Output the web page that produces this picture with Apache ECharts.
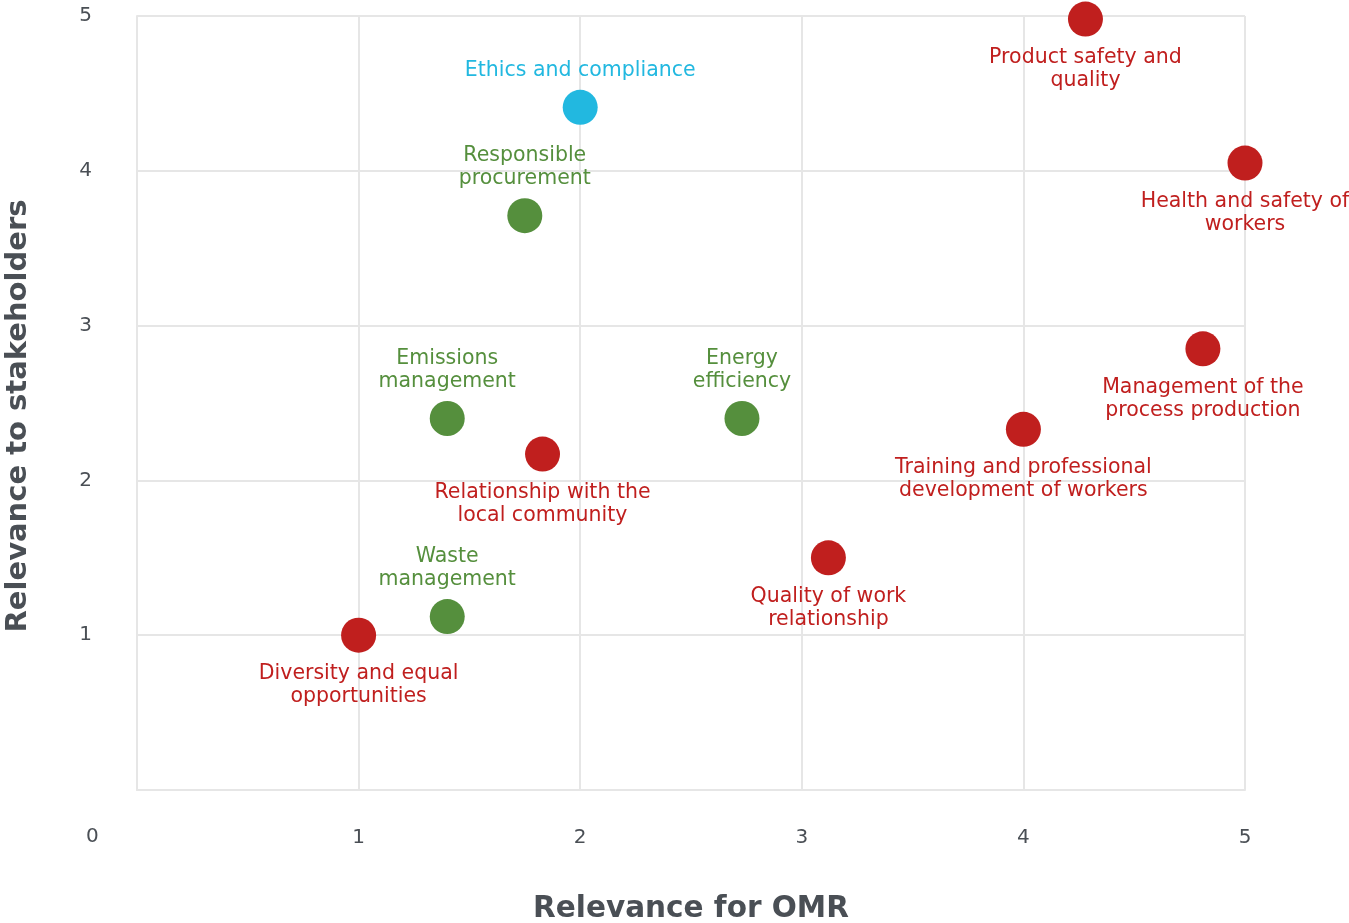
<!DOCTYPE html>
<html>
<head>
<meta charset="utf-8">
<script src="https://cdn.jsdelivr.net/npm/echarts@6/dist/echarts.min.js"></script>
<style>
html,body{margin:0;padding:0;background:#fff;}
#chart{width:1349px;height:923px;}
</style>
</head>
<body>
<div id="chart"></div>
<script>
// Data
const redNames = ['Product safety and\nquality', 'Health and safety of\nworkers', 'Management of the\nprocess production', 'Training and professional\ndevelopment of workers', 'Quality of work\nrelationship', 'Relationship with the\nlocal community', 'Diversity and equal\nopportunities'];
const redX = [4.28, 5.0, 4.81, 4.0, 3.12, 1.83, 1.0];
const redY = [4.98, 4.05, 2.85, 2.33, 1.50, 2.17, 1.0];

const greenNames = ['Responsible\nprocurement', 'Emissions\nmanagement', 'Energy\nefficiency', 'Waste\nmanagement'];
const greenX = [1.75, 1.40, 2.73, 1.40];
const greenY = [3.71, 2.40, 2.40, 1.12];

const blueNames = ['Ethics and compliance'];
const blueX = [2.0];
const blueY = [4.41];

const xTitle = 'Relevance for OMR';
const yTitle = 'Relevance to stakeholders';

const FONT = 'DejaVu Sans';
const TEXT = '#4a4f55';

function build(names, xs, ys) {
  return names.map((n, i) => ({ name: n, value: [xs[i], ys[i]] }));
}
function series(names, xs, ys, color, pos, dist) {
  return {
    type: 'scatter',
    symbolSize: 35,
    itemStyle: { color: color, opacity: 1 },
    data: build(names, xs, ys),
    label: {
      show: true,
      position: pos,
      distance: dist,
      formatter: p => p.name,
      color: color,
      fontFamily: FONT,
      fontSize: 20.5,
      lineHeight: 23,
      align: 'center'
    },
    emphasis: { disabled: true }
  };
}

const chart = echarts.init(document.getElementById('chart'), null, { renderer: 'canvas' });
chart.setOption({
  animation: false,
  grid: { left: 137, top: 16, width: 1108, height: 774, containLabel: false, outerBoundsMode: 'none' },
  xAxis: {
    type: 'value', min: 0, max: 5, interval: 1,
    name: xTitle, nameLocation: 'middle', nameGap: 104,
    nameTextStyle: { fontFamily: FONT, fontWeight: 'bold', fontSize: 29.5, color: TEXT },
    axisLine: { show: true, lineStyle: { color: '#e6e6e6', width: 2 } },
    axisTick: { show: false },
    axisLabel: { margin: 38, showMinLabel: false, color: TEXT, fontFamily: FONT, fontSize: 20 },
    splitLine: { show: true, lineStyle: { color: '#e6e6e6', width: 2 } }
  },
  yAxis: {
    type: 'value', min: 0, max: 5, interval: 1,
    name: yTitle, nameLocation: 'middle', nameGap: 104,
    nameTextStyle: { fontFamily: FONT, fontWeight: 'bold', fontSize: 29, color: TEXT, padding: [0, 26, 0, 0] },
    axisLine: { show: true, lineStyle: { color: '#e6e6e6', width: 2 } },
    axisTick: { show: false },
    axisLabel: { margin: 45, showMinLabel: false, color: TEXT, fontFamily: FONT, fontSize: 20 },
    splitLine: { show: true, lineStyle: { color: '#e6e6e6', width: 2 } }
  },
  graphic: [{
    type: 'text', left: 86, top: 827,
    style: { text: '0', fill: TEXT, font: '20px "DejaVu Sans"' }
  }],
  series: [
    series(redNames, redX, redY, '#c01f1e', 'bottom', 9.5),
    series(greenNames, greenX, greenY, '#558f3d', 'top', 8),
    series(blueNames, blueX, blueY, '#22b8e0', 'top', 8)
  ]
});
</script>
</body>
</html>
